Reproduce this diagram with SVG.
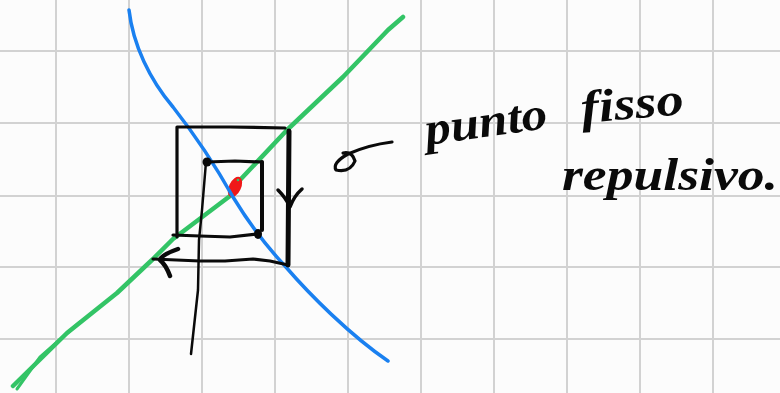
<svg xmlns="http://www.w3.org/2000/svg" width="780" height="393" viewBox="0 0 780 393">
<style>
.grid{stroke:#d2d2d2;stroke-width:2;fill:none}
.ink{stroke:#0a0a0a;stroke-width:3.2;fill:none;stroke-linecap:round;stroke-linejoin:round}
.hand{font-family:"Liberation Serif",serif;font-style:italic;font-weight:bold;font-size:46px;fill:#0a0a0a}
</style>
<rect width="780" height="393" fill="#fcfcfc"/>
<g id="grid" class="grid">
<path d="M56,0V393M129,0V393M202,0V393M275,0V393M348,0V393M421,0V393M494,0V393M567,0V393M640,0V393M713,0V393"/>
<path d="M0,51H780M0,123H780M0,196H780M0,267H780M0,339H780"/>
</g>
<g id="curves">
<polyline id="green-line" points="403,17 388,30 343,77 287,130 240,180 230,196 173,239 153,259 117,293 67,333 13,386" fill="none" stroke="#33c466" stroke-width="4.5" stroke-linecap="round" stroke-linejoin="round"/>
<path d="M80,322 L40,357 L17,389" fill="none" stroke="#33c466" stroke-width="3" stroke-linecap="round"/>
<ellipse id="fixed-point" cx="235" cy="187" rx="6" ry="11" transform="rotate(25 235 187)" fill="#f01818"/>
<circle cx="238" cy="180" r="1.3" fill="#33c466"/>
<path id="blue-curve" d="M129,10 C133,45 150,80 173,107 C195,135 215,165 233,197 C250,225 270,250 285,266 C310,295 350,335 388,361" fill="none" stroke="#1a80f0" stroke-width="3.5" stroke-linecap="round"/>
</g>
<g id="cobweb" class="ink">
<path d="M177,237 L177,127 L230,127 L285,128"/>
<path d="M289,131 L288,265" stroke-width="5"/>
<path d="M288,265 L270,261 L253,259 L225,261 L200,261 L153,259"/>
<path d="M178,249 Q161,255 160,260 Q166,265 170,276" stroke-width="4.5"/>
<path d="M278,190 Q286,198 290,207 Q294,196 302,189" stroke-width="3.5"/>
<path d="M207,162 L235,161 L262,162"/>
<path d="M262,162 L262,230" stroke-width="4"/>
<path d="M173,235 L200,236 L230,237 L258,234"/>
<path d="M206,162 L202,210 L199,240 L198,290 L191,354" stroke-width="2.5"/>
<circle cx="207" cy="162" r="4.5" fill="#0a0a0a" stroke="none"/>
<ellipse cx="258" cy="234" rx="4" ry="5" fill="#0a0a0a" stroke="none"/>
</g>
<g id="label">
<path class="ink" stroke-width="3.8" d="M392,142 Q368,145 348,154 Q332,163 336,170 Q350,173 355,161 Q352,151 343,153"/>
<text class="hand" transform="rotate(-8 427 145)"><tspan x="427" y="145" textLength="123" lengthAdjust="spacingAndGlyphs">punto</tspan></text>
<text class="hand" transform="rotate(-5 582 123)"><tspan x="582" y="123" textLength="103" lengthAdjust="spacingAndGlyphs">fisso</tspan></text>
<text class="hand" x="562" y="190" textLength="216" lengthAdjust="spacingAndGlyphs">repulsivo.</text>
</g>
</svg>
